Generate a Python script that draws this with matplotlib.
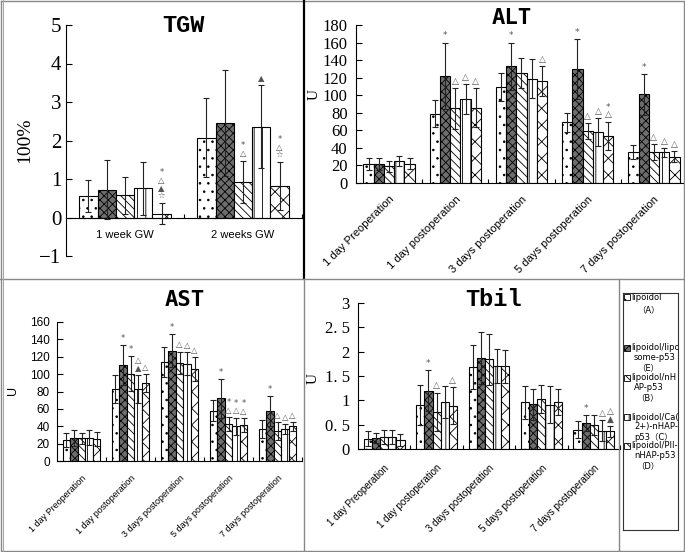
import numpy as np
import matplotlib.pyplot as plt
from matplotlib.lines import Line2D
from matplotlib.patches import Rectangle
from matplotlib.ticker import FixedLocator

plt.rcParams['hatch.linewidth'] = 0.6

# ==========================================
# Data
# ==========================================
series = ["A", "E", "B", "C", "D"]

tgw_cats = ["1 week GW", "2 weeks GW"]
tgw_mean = [[0.56, 0.72, 0.58, 0.76, 0.10],
            [2.07, 2.46, 0.93, 2.36, 0.82]]
tgw_sd = [[0.42, 0.77, 0.48, 0.69, 0.28],
          [1.03, 1.38, 0.55, 1.08, 0.62]]
tgw_marks = [["", "", "", "", "*\n△\n▲\n☆"],
             ["", "", "*\n△", "▲", "*\n△\n☆"]]

time_cats = ["1 day Preoperation", "1 day postoperation", "3 days postoperation",
             "5 days postoperation", "7 days postoperation"]

alt_mean = [[22, 22, 19, 25, 22],
            [79, 122, 85, 96, 86],
            [109, 133, 125, 119, 116],
            [69, 130, 59, 58, 54],
            [35, 101, 35, 35, 30]]
alt_sd = [[7, 7, 6, 6, 6],
          [15, 38, 23, 17, 22],
          [16, 27, 17, 22, 17],
          [11, 34, 9, 16, 16],
          [8, 23, 9, 5, 6]]
alt_marks = [["", "", "", "", ""],
             ["", "*", "△", "△", "△"],
             ["", "*", "", "", "△"],
             ["", "*", "△", "△", "*\n△"],
             ["", "*", "△", "△", "△"]]

ast_mean = [[24.5, 26.5, 26, 27, 25],
            [83, 111, 100.5, 83, 90],
            [114, 127, 113, 112, 106],
            [58, 72, 43, 40, 41],
            [37, 57.5, 34.5, 37, 40]]
ast_sd = [[8, 9, 6, 9, 8],
          [16, 23, 20, 16, 10],
          [17, 19, 13, 13, 14],
          [12, 22, 8, 10, 8],
          [10, 17, 10, 6, 5]]
ast_marks = [["", "", "", "", ""],
             ["", "*", "*", "△\n▲", "△"],
             ["", "*", "△", "△", "△"],
             ["", "*", "*\n△", "*\n△", "*\n△"],
             ["", "*", "△", "△", "△"]]

tbil_mean = [[0.21, 0.23, 0.25, 0.25, 0.19],
             [0.91, 1.20, 0.76, 0.96, 0.89],
             [1.68, 1.87, 1.84, 1.71, 1.70],
             [0.96, 0.92, 1.03, 0.91, 0.97],
             [0.40, 0.53, 0.49, 0.38, 0.36]]
tbil_sd = [[0.15, 0.10, 0.15, 0.15, 0.12],
           [0.41, 0.42, 0.40, 0.33, 0.38],
           [0.45, 0.53, 0.52, 0.35, 0.34],
           [0.34, 0.32, 0.29, 0.38, 0.27],
           [0.17, 0.16, 0.20, 0.21, 0.12]]
tbil_marks = [["", "", "", "", ""],
              ["", "*", "△", "", "△"],
              ["", "", "", "", ""],
              ["", "", "", "", ""],
              ["", "*", "", "△", "△\n▲"]]

tbil_ticks = [0, 0.5, 1, 1.5, 2, 2.5, 3]
tbil_ticklabels = ["0", "0. 5", "1", "1. 5", "2", "2. 5", "3"]

legend_lines = [["lipoidol", "（A）"],
                ["lipoidol/lipo", "some-p53", "（E）"],
                ["lipoidol/nH", "AP-p53", "（B）"],
                ["lipoidol/Ca(", "2+)-nHAP-", "p53（C）"],
                ["lipoidol/PII-", "nHAP-p53", "（D）"]]

# ==========================================
# Styles
# ==========================================
STYLE = {
    "A": dict(facecolor="white", hatch=".."),
    "E": dict(facecolor="#6e6e6e", hatch="xxxx"),
    "B": dict(facecolor="white", hatch="\\\\\\\\"),
    "C": dict(facecolor="white", hatch="||"),
    "D": dict(facecolor="white", hatch="xx"),
}
BAR_W = 0.155
W, H = 685, 552
SERIF = "Liberation Serif"
SANS = "Liberation Sans"


def px_axes(fig, x0, y0, x1, y1):
    return fig.add_axes([x0 / W, 1 - y1 / H, (x1 - x0) / W, (y1 - y0) / H])


def draw_bars(ax, cats, means, sds, marks, mark_size=6.5):
    means = np.asarray(means, dtype=float)
    sds = np.asarray(sds, dtype=float)
    x = np.arange(len(cats))
    for j, s in enumerate(series):
        xs = x + (j - 2) * BAR_W
        ax.bar(xs, means[:, j], width=BAR_W, edgecolor="black", linewidth=0.8,
               zorder=2, **STYLE[s])
        ax.errorbar(xs, means[:, j], yerr=sds[:, j], fmt="none", ecolor="#222222",
                    elinewidth=0.8, capsize=2, capthick=0.8, zorder=3)
        for i in range(len(cats)):
            if marks[i][j]:
                ax.annotate(marks[i][j], (xs[i], means[i, j] + sds[i, j]),
                            xytext=(0, 1.5), textcoords="offset points",
                            ha="center", va="bottom", fontsize=mark_size,
                            linespacing=0.85, color="#555555", zorder=4)
    ax.set_xlim(-0.5, len(cats) - 0.5)
    ax.set_xticks(x)
    ax.xaxis.set_minor_locator(FixedLocator(np.arange(len(cats)) + 0.5))
    ax.tick_params(axis="x", which="major", length=0)
    ax.tick_params(axis="x", which="minor", length=3, direction="in", width=0.8)
    ax.tick_params(axis="y", direction="in", length=4, width=0.8)
    ax.spines["top"].set_visible(False)
    ax.spines["right"].set_visible(False)
    for sp in ("left", "bottom"):
        ax.spines[sp].set_linewidth(0.8)
    ax.set_facecolor("none")


def rotated_labels(ax, labels, size, pad):
    ax.set_xticklabels(labels, rotation=45, ha="right", va="top",
                       rotation_mode="anchor", fontsize=size, family=SANS)
    ax.tick_params(axis="x", which="major", pad=pad)


fig = plt.figure(figsize=(W / 100, H / 100), dpi=100)

# ---------------- TGW ----------------
ax = px_axes(fig, 66, 25, 302, 256)
draw_bars(ax, tgw_cats, tgw_mean, tgw_sd, tgw_marks, mark_size=6)
ax.set_ylim(-1, 5)
ax.spines["bottom"].set_position(("data", 0))
ax.set_yticks(range(-1, 6))
ax.set_yticklabels([str(v).replace("-", "\u2212") for v in range(-1, 6)],
                   family=SERIF, fontsize=15)
ax.set_xticklabels(tgw_cats, fontsize=8, family=SANS)
ax.tick_params(axis="x", which="major", pad=9)
fig.text(25 / W, 1 - 140 / H, "100%", rotation=90, ha="center", va="center",
         family=SERIF, fontsize=14)
fig.text(183 / W, 1 - 25 / H, "TGW", ha="center", va="center",
         family="Liberation Mono", fontweight="bold", fontsize=17)

# ---------------- ALT ----------------
ax = px_axes(fig, 356, 25, 687, 183)
draw_bars(ax, time_cats, alt_mean, alt_sd, alt_marks)
ax.set_ylim(0, 180)
ax.set_yticks(range(0, 181, 20))
ax.set_yticklabels([str(v) for v in range(0, 181, 20)], family=SERIF, fontsize=12)
ax.tick_params(axis="y", pad=6)
rotated_labels(ax, time_cats, 8, 8)
fig.text(314 / W, 1 - 95 / H, "U", rotation=90, ha="center", va="center",
         family=SERIF, fontsize=11)
fig.text(512 / W, 1 - 18 / H, "ALT", ha="center", va="center",
         family="DejaVu Sans Mono", fontweight="bold", fontsize=16)

# ---------------- AST ----------------
ax = px_axes(fig, 57, 322, 302, 461)
draw_bars(ax, time_cats, ast_mean, ast_sd, ast_marks, mark_size=6)
ax.set_ylim(0, 160)
ax.set_yticks(range(0, 161, 20))
ax.set_yticklabels([str(v) for v in range(0, 161, 20)], family=SANS, fontsize=8.5)
ax.tick_params(axis="y", pad=5)
rotated_labels(ax, time_cats, 6.5, 9)
fig.text(13 / W, 1 - 390 / H, "U", rotation=90, ha="center", va="center",
         family=SANS, fontsize=9)
fig.text(185 / W, 1 - 300 / H, "AST", ha="center", va="center",
         family="DejaVu Sans Mono", fontweight="bold", fontsize=16)

# ---------------- Tbil ----------------
ax = px_axes(fig, 358, 303, 620, 449)
draw_bars(ax, time_cats, tbil_mean, tbil_sd, tbil_marks)
ax.set_ylim(0, 3)
ax.set_yticks(tbil_ticks)
ax.set_yticklabels(tbil_ticklabels, family=SERIF, fontsize=12)
ax.tick_params(axis="y", pad=6)
rotated_labels(ax, time_cats, 7, 10)
fig.text(313 / W, 1 - 378 / H, "U", rotation=90, ha="center", va="center",
         family=SERIF, fontsize=11)
fig.text(493 / W, 1 - 300 / H, "Tbil", ha="center", va="center",
         family="Liberation Mono", fontweight="bold", fontsize=17)

# ---------------- Legend box ----------------
lg = px_axes(fig, 623, 293, 678, 530)
lg.set_xlim(623, 678)
lg.set_ylim(530, 293)
lg.set_xticks([])
lg.set_yticks([])
for sp in lg.spines.values():
    sp.set_linewidth(0.8)
    sp.set_color("#333333")
entry_y = [297, 348, 378, 417, 446]
for s, lines, y0 in zip(series, legend_lines, entry_y):
    lg.add_patch(Rectangle((624, y0 - 3), 6, 6, edgecolor="black",
                           linewidth=0.6, **STYLE[s]))
    for k, line in enumerate(lines):
        if k == 0:
            xx, ha = 631, "left"
        elif line.startswith("（"):
            xx, ha = 648, "center"
        else:
            xx, ha = 634, "left"
        lg.text(xx, y0 + k * 10 + (3 if (k == 1 and len(lines) == 2) else 0), line,
                ha=ha, va="center", fontsize=6, clip_on=True,
                family=["DejaVu Sans", "Noto Sans CJK SC"])

# ---------------- Panel frames ----------------
def fline(xs, ys, color="#888888", lw=1.0):
    fig.add_artist(Line2D([x / W for x in xs], [1 - y / H for y in ys],
                          color=color, linewidth=lw))

fline([1, 684, 684, 1, 1], [1, 1, 551, 551, 1])
fline([303.5, 303.5], [0, 278], color="black", lw=1.6)
fline([0, 685], [278.5, 278.5])
fline([303.5, 303.5], [278.5, 552])
fline([618.5, 618.5], [278.5, 552])
fline([3, 3], [0, 552], color="#aaaaaa", lw=0.8)

fig.savefig("out.png", dpi=100)
